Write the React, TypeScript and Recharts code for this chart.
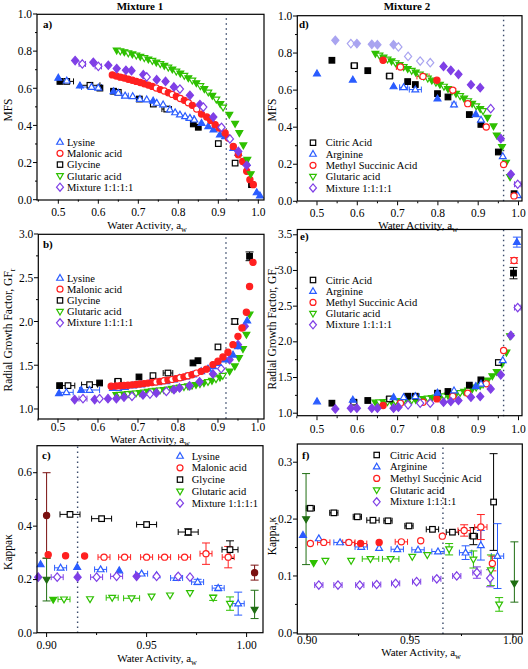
import React from 'react'
import { ScatterChart, Scatter, XAxis, YAxis, ReferenceLine, ErrorBar } from 'recharts'

const FONT = "'Liberation Serif', 'Times New Roman', Times, serif"
const BLUE = '#2a5cff'
const RED = '#ff2020'
const BLACK = '#000000'
const GREEN = '#2ec000'
const PURPLE = '#7f3fe6'
const LAVENDER = '#a9a4f0'
const DARKRED = '#7a1010'
const DARKGREEN = '#1f6e12'

// point = [aw, value, open?, xErr?, yErrDown?, yErrUp?]
type Pt = number[]

// ---- panel a: MFS, mixture 1
const aLysine: Pt[] = [
  [0.5, 0.656], [0.521, 0.641, 1], [0.554, 0.614], [0.583, 0.607, 1, 0.025], [0.6, 0.603, 1],
  [0.638, 0.583], [0.65, 0.575, 1], [0.667, 0.56, 1, 0.008], [0.686, 0.557, 1], [0.704, 0.542, 1],
  [0.721, 0.539, 1], [0.737, 0.533], [0.746, 0.521, 1], [0.762, 0.512, 1], [0.779, 0.485, 1],
  [0.792, 0.47, 1], [0.804, 0.458, 1], [0.817, 0.449, 1], [0.829, 0.44, 1, 0.01], [0.84, 0.431, 1],
  [0.858, 0.413], [0.875, 0.395], [0.888, 0.377], [0.904, 0.35], [0.917, 0.341], [0.9375, 0.278],
  [0.95, 0.251], [0.971, 0.197], [0.996, 0.039], [1.004, 0.022],
]
const aMalonic: Pt[] = [
  [0.635, 0.672], [0.645, 0.666], [0.655, 0.66], [0.665, 0.655], [0.675, 0.649], [0.685, 0.643],
  [0.695, 0.637], [0.705, 0.631], [0.715, 0.624], [0.725, 0.617], [0.735, 0.61], [0.745, 0.601, 1],
  [0.755, 0.593], [0.765, 0.585, 1], [0.775, 0.576], [0.785, 0.567, 1], [0.795, 0.556], [0.805, 0.545, 1],
  [0.815, 0.535], [0.825, 0.522, 1], [0.835, 0.508], [0.846, 0.488, 1], [0.858, 0.461], [0.871, 0.445],
  [0.881, 0.427], [0.892, 0.404], [0.902, 0.386], [0.917, 0.359], [0.925, 0.332], [0.9375, 0.287],
  [0.95, 0.242], [0.961, 0.206], [0.971, 0.153], [0.979, 0.108], [0.9875, 0.081],
]
const aGlycine: Pt[] = [
  [0.504, 0.637], [0.521, 0.637, 1, 0.017], [0.579, 0.616, 1, 0.025], [0.604, 0.601], [0.638, 0.584],
  [0.65, 0.578, 1], [0.7025, 0.542], [0.7375, 0.515, 1], [0.771, 0.488, 1, 0.012], [0.8375, 0.408],
  [0.85, 0.39], [0.9, 0.302, 1], [0.942, 0.197, 1], [0.983, 0.081],
]
const aGlutaric: Pt[] = [
  [0.646, 0.804], [0.655, 0.8, 1], [0.665, 0.795], [0.675, 0.789, 1], [0.685, 0.783], [0.695, 0.777, 1],
  [0.705, 0.77], [0.715, 0.763, 1], [0.725, 0.756], [0.735, 0.748, 1], [0.745, 0.739], [0.755, 0.731, 1],
  [0.765, 0.722], [0.775, 0.712, 1], [0.785, 0.702], [0.795, 0.691, 1], [0.805, 0.68], [0.815, 0.668, 1],
  [0.825, 0.655], [0.835, 0.642, 1], [0.845, 0.628], [0.855, 0.612, 1], [0.865, 0.596], [0.875, 0.578, 1],
  [0.885, 0.56], [0.895, 0.54, 1], [0.905, 0.516], [0.912, 0.497, 1], [0.9275, 0.458], [0.942, 0.409],
  [0.9525, 0.359], [0.9625, 0.293], [0.9725, 0.215], [0.981, 0.138],
]
const aMixture: Pt[] = [
  [0.542, 0.749], [0.56, 0.731, 1, 0.008], [0.5875, 0.74], [0.6, 0.718, 1, 0.008], [0.625, 0.724],
  [0.646, 0.706], [0.669, 0.697], [0.683, 0.695], [0.7125, 0.673], [0.721, 0.661, 1], [0.746, 0.646],
  [0.768, 0.637], [0.789, 0.607], [0.804, 0.596, 1], [0.829, 0.562], [0.854, 0.512], [0.8625, 0.499, 1],
  [0.8875, 0.445], [0.908, 0.39, 1], [0.929, 0.327, 1], [0.95, 0.26], [0.971, 0.185],
]

// ---- panel b: growth factor, mixture 1
const bLysine: Pt[] = [
  [0.5025, 1.179], [0.521, 1.19, 1, 0.017], [0.558, 1.217], [0.579, 1.217, 1, 0.025], [0.6375, 1.24],
  [0.65, 1.24, 1], [0.667, 1.25, 1], [0.6875, 1.267, 1], [0.708, 1.28, 1], [0.729, 1.297, 1],
  [0.75, 1.305, 1], [0.771, 1.316, 1], [0.79, 1.335, 1], [0.804, 1.354, 1], [0.82, 1.37, 1],
  [0.8375, 1.392, 1], [0.858, 1.43], [0.875, 1.46], [0.8875, 1.488], [0.9, 1.526], [0.917, 1.564],
  [0.9375, 1.62], [0.95, 1.716], [0.973, 2.01],
]
const bMalonic: Pt[] = [
  [0.633, 1.259], [0.645, 1.262], [0.655, 1.265], [0.665, 1.268], [0.675, 1.272], [0.685, 1.276],
  [0.695, 1.28], [0.705, 1.285], [0.715, 1.29], [0.725, 1.296], [0.735, 1.302], [0.745, 1.308, 1],
  [0.755, 1.315], [0.765, 1.322, 1], [0.775, 1.33], [0.785, 1.338, 1], [0.795, 1.347], [0.805, 1.357, 1],
  [0.815, 1.367], [0.825, 1.379, 1], [0.835, 1.392], [0.846, 1.41, 1], [0.858, 1.43], [0.871, 1.455],
  [0.8875, 1.507], [0.9, 1.545], [0.9125, 1.594], [0.925, 1.648], [0.9375, 1.735], [0.95, 1.83],
  [0.96, 1.926], [0.971, 2.105], [0.979, 2.4], [0.9875, 2.676],
]
const bGlycine: Pt[] = [
  [0.504, 1.267], [0.525, 1.267, 1, 0.017], [0.579, 1.278, 1, 0.02], [0.604, 1.297], [0.65, 1.316, 1, 0.008],
  [0.7025, 1.366], [0.7375, 1.381, 1], [0.775, 1.411, 1, 0.012], [0.8375, 1.526], [0.85, 1.552],
  [0.9, 1.709, 1], [0.942, 2.0, 1, 0, 0.03], [0.979, 2.745, 0, 0, 0.05],
]
const bGlutaric: Pt[] = [
  [0.646, 1.16], [0.655, 1.163, 1], [0.665, 1.167], [0.675, 1.171, 1], [0.685, 1.175], [0.695, 1.179, 1],
  [0.705, 1.183], [0.715, 1.19, 1], [0.725, 1.197], [0.735, 1.203, 1], [0.745, 1.208], [0.755, 1.213, 1],
  [0.765, 1.218], [0.775, 1.224, 1], [0.785, 1.231], [0.795, 1.238, 1], [0.805, 1.245], [0.815, 1.252, 1],
  [0.825, 1.26], [0.835, 1.268, 1], [0.845, 1.276], [0.855, 1.287, 1], [0.865, 1.298], [0.875, 1.31, 1],
  [0.885, 1.324], [0.895, 1.342, 1], [0.905, 1.36], [0.912, 1.38, 1], [0.929, 1.43], [0.942, 1.488],
  [0.9525, 1.583], [0.9625, 1.686], [0.971, 1.85], [0.979, 2.08],
]
const bMixture: Pt[] = [
  [0.5417, 1.107], [0.5625, 1.118, 1, 0.01], [0.5917, 1.107], [0.604, 1.118, 1], [0.625, 1.118],
  [0.646, 1.118], [0.665, 1.135], [0.685, 1.145, 1], [0.7125, 1.16], [0.73, 1.17, 1], [0.746, 1.183],
  [0.771, 1.2, 1], [0.79, 1.22], [0.804, 1.24], [0.829, 1.265], [0.854, 1.31], [0.8875, 1.4],
  [0.908, 1.46, 1], [0.929, 1.564], [0.95, 1.735], [0.967, 1.945],
]

// ---- panel c: kappa, mixture 1
const cLysine: Pt[] = [
  [0.897, 0.257], [0.907, 0.244, 1, 0.003], [0.9153, 0.247], [0.927, 0.238, 1, 0.003], [0.9363, 0.234],
  [0.9475, 0.222, 1, 0.003], [0.955, 0.216], [0.965, 0.206, 1, 0.003], [0.9755, 0.191, 1, 0.003, 0.01],
  [0.9858, 0.168, 1, 0.003, 0.01], [0.9958, 0.11, 1, 0.003, 0.043],
]
const cMalonic: Pt[] = [
  [0.9008, 0.293], [0.9095, 0.289], [0.919, 0.288], [0.9287, 0.284, 1, 0.003], [0.939, 0.284, 1, 0.003],
  [0.95, 0.284, 1, 0.003], [0.959, 0.284, 1, 0.003], [0.969, 0.284, 1, 0.003],
  [0.9797, 0.297, 1, 0.003, 0.04], [0.9908, 0.284, 1, 0.003, 0.04],
]
const cGlycine: Pt[] = [
  [0.9117, 0.444, 1, 0.005], [0.9275, 0.428, 1, 0.005], [0.95, 0.406, 1, 0.005],
  [0.9708, 0.378, 1, 0.005, 0.012], [0.9917, 0.312, 1, 0.004, 0.033],
]
const cGlutaric: Pt[] = [
  [0.9033, 0.125], [0.9087, 0.126, 1, 0.003], [0.9217, 0.127, 1], [0.9328, 0.132, 1, 0.003],
  [0.9425, 0.13, 1, 0.004], [0.9525, 0.137, 1], [0.9617, 0.141, 1], [0.9717, 0.15, 1],
  [0.9833, 0.132, 1, 0, 0.01], [0.9917, 0.11, 1, 0, 0.025],
]
const cMixture: Pt[] = [
  [0.8958, 0.209], [0.9053, 0.209, 1, 0.003], [0.9155, 0.209], [0.925, 0.209, 1, 0.003],
  [0.935, 0.212, 1, 0.003], [0.945, 0.212], [0.955, 0.212, 1], [0.9658, 0.212, 1], [0.9717, 0.209, 1],
]
const cLitMalonic: Pt[] = [[0.9, 0.44, 0, 0, 0.16], [1.004, 0.226, 0, 0, 0.028]]
const cLitGlutaric: Pt[] = [[0.9, 0.2, 0, 0, 0.08], [1.004, 0.087, 0, 0, 0.033, 0.073]]

// ---- panel d: MFS, mixture 2
const dCitric: Pt[] = [
  [0.537, 0.761], [0.5926, 0.732, 1, 0.008], [0.626, 0.705], [0.68, 0.676, 1, 0.008], [0.725, 0.646],
  [0.744, 0.63], [0.799, 0.581], [0.825, 0.563], [0.878, 0.468], [0.9066, 0.415], [0.95, 0.266], [0.989, 0.041],
]
const dArginine: Pt[] = [
  [0.5, 0.689], [0.589, 0.656], [0.69, 0.62], [0.715, 0.615, 1, 0.01], [0.744, 0.603, 1, 0.015],
  [0.799, 0.554], [0.84, 0.522, 1, 0.005], [0.894, 0.47], [0.907, 0.44, 1], [0.961, 0.243, 1], [0.998, 0.032, 1],
]
const dMethyl: Pt[] = [
  [0.664, 0.761], [0.707, 0.725, 1, 0.01], [0.763, 0.674, 1, 0.015], [0.7975, 0.653], [0.837, 0.599, 1],
  [0.874, 0.527, 1], [0.92, 0.401, 1], [0.963, 0.198, 1], [0.989, 0.029, 1],
]
const dGlutaric: Pt[] = [
  [0.645, 0.797], [0.655, 0.787, 1], [0.665, 0.776], [0.675, 0.766, 1], [0.685, 0.756], [0.695, 0.746, 1],
  [0.705, 0.736], [0.715, 0.725, 1], [0.725, 0.715], [0.735, 0.705, 1], [0.745, 0.695], [0.755, 0.685, 1],
  [0.765, 0.674], [0.775, 0.663, 1], [0.785, 0.652], [0.795, 0.641, 1], [0.805, 0.63], [0.815, 0.619, 1],
  [0.825, 0.607], [0.835, 0.594, 1], [0.845, 0.581], [0.855, 0.568, 1], [0.865, 0.555], [0.875, 0.541, 1],
  [0.885, 0.527], [0.895, 0.513, 1], [0.905, 0.499], [0.912, 0.488, 1], [0.923, 0.451], [0.938, 0.405],
  [0.946, 0.356], [0.959, 0.293], [0.969, 0.209], [0.979, 0.131],
]
const dMixtureEarly: Pt[] = [
  [0.5455, 0.869], [0.584, 0.851, 1], [0.599, 0.851], [0.636, 0.847], [0.65, 0.845], [0.69, 0.845],
  [0.702, 0.833, 1], [0.726, 0.782, 1], [0.756, 0.757, 1], [0.781, 0.748, 1],
]
const dMixture: Pt[] = [
  [0.814, 0.728], [0.832, 0.707], [0.851, 0.685], [0.882, 0.629], [0.905, 0.613], [0.931, 0.5, 1],
  [0.956, 0.338], [0.981, 0.146], [0.998, 0.092, 1, 0.008],
]

// ---- panel e: growth factor, mixture 2
const eCitric: Pt[] = [
  [0.537, 1.14], [0.591, 1.154, 1, 0.008], [0.626, 1.178], [0.68, 1.2, 1, 0.008], [0.725, 1.238],
  [0.744, 1.238], [0.799, 1.28], [0.825, 1.304], [0.878, 1.393], [0.9066, 1.467], [0.95, 1.71, 1],
  [0.9876, 2.963, 0, 0, 0.08],
]
const eArginine: Pt[] = [
  [0.5, 1.164], [0.589, 1.187], [0.69, 1.224], [0.715, 1.224, 1], [0.744, 1.238, 1, 0.01], [0.799, 1.285],
  [0.84, 1.318, 1], [0.894, 1.378], [0.907, 1.411, 1], [0.961, 1.74, 1], [0.996, 3.397, 0, 0, 0.07],
]
const eMethyl: Pt[] = [
  [0.664, 1.107], [0.707, 1.14, 1], [0.763, 1.154, 1], [0.7975, 1.2], [0.837, 1.238, 1], [0.874, 1.28, 1],
  [0.92, 1.411, 1], [0.963, 1.878, 1], [0.989, 3.14, 1, 0, 0.04],
]
const eGlutaric: Pt[] = [
  [0.645, 1.15], [0.655, 1.152, 1], [0.665, 1.155], [0.675, 1.158, 1], [0.685, 1.161], [0.695, 1.165, 1],
  [0.705, 1.169], [0.715, 1.173, 1], [0.725, 1.178], [0.735, 1.183, 1], [0.745, 1.188], [0.755, 1.194, 1],
  [0.765, 1.2], [0.775, 1.207, 1], [0.785, 1.214], [0.795, 1.222, 1], [0.805, 1.23], [0.815, 1.239, 1],
  [0.825, 1.249], [0.835, 1.26, 1], [0.845, 1.272], [0.855, 1.285, 1], [0.865, 1.3], [0.875, 1.318, 1],
  [0.885, 1.338], [0.895, 1.36, 1], [0.905, 1.385], [0.912, 1.405, 1], [0.923, 1.46], [0.935, 1.52],
  [0.946, 1.58], [0.959, 1.69], [0.97, 1.85], [0.979, 2.08],
]
const eMixture: Pt[] = [
  [0.5455, 1.06], [0.584, 1.07], [0.599, 1.07], [0.636, 1.07], [0.65, 1.07], [0.69, 1.07], [0.702, 1.084],
  [0.726, 1.117, 1], [0.756, 1.14, 1], [0.781, 1.14, 1], [0.814, 1.154], [0.832, 1.164], [0.851, 1.178],
  [0.882, 1.224], [0.905, 1.234], [0.931, 1.34], [0.956, 1.537], [0.981, 2.09], [0.998, 2.48, 1, 0.008],
]

// ---- panel f: kappa, mixture 2
const fCitric: Pt[] = [
  [0.9016, 0.219, 1, 0.002], [0.913, 0.211, 1, 0.002], [0.9244, 0.204, 1, 0.002], [0.932, 0.198, 1, 0.003],
  [0.9393, 0.197, 1, 0.002], [0.9495, 0.188, 1, 0.002], [0.9609, 0.182, 1, 0.003], [0.9706, 0.177, 1, 0.003],
  [0.9808, 0.17, 1, 0.002, 0.015], [0.9906, 0.23, 1, 0.001, 0.085],
]
const fArginine: Pt[] = [
  [0.898, 0.172], [0.9057, 0.166, 1], [0.916, 0.159, 1, 0.003], [0.9263, 0.151, 1, 0.003], [0.935, 0.149, 1],
  [0.9438, 0.147, 1, 0.003], [0.9539, 0.146, 1, 0.003], [0.9636, 0.143, 1, 0.003],
  [0.977, 0.141, 1, 0.003, 0.012], [0.9844, 0.154, 1, 0, 0.026], [0.9925, 0.135, 1, 0.003, 0.057],
]
const fMethyl: Pt[] = [
  [0.9016, 0.157, 1], [0.9081, 0.159, 1, 0.003], [0.9203, 0.159, 1, 0.003], [0.926, 0.157, 0, 0.003],
  [0.935, 0.159], [0.9458, 0.16, 1, 0.003], [0.9552, 0.162, 1], [0.9657, 0.17, 1],
  [0.9763, 0.18, 1, 0.003, 0.01], [0.9844, 0.186, 1, 0.003, 0.022], [0.99, 0.122, 1, 0, 0.013],
]
const fGlutaric: Pt[] = [
  [0.9032, 0.123], [0.9089, 0.127, 1], [0.9214, 0.127, 1], [0.9308, 0.13, 1, 0.004], [0.9406, 0.13, 1, 0.004],
  [0.9511, 0.134, 1], [0.9584, 0.137, 1], [0.969, 0.147, 1, 0, 0.01], [0.9808, 0.129, 1, 0, 0.015],
  [0.9893, 0.11, 1, 0, 0.027], [0.9933, 0.05, 1, 0, 0.012],
]
const fLitGlutaric: Pt[] = [[0.8995, 0.2, 0, 0, 0.08], [1.0007, 0.087, 0, 0, 0.033, 0.073]]
const fMixture: Pt[] = [
  [0.9057, 0.084, 1, 0.002], [0.915, 0.084, 1, 0.002], [0.9256, 0.084, 1, 0.002], [0.9338, 0.085, 1, 0.002],
  [0.943, 0.087, 1, 0.002], [0.9532, 0.09, 1, 0.002], [0.963, 0.095, 1, 0.002], [0.9727, 0.1, 1, 0.002],
  [0.9825, 0.106, 1, 0.002, 0.01], [0.9889, 0.096, 1, 0, 0.015],
]

// ---- ticks and labels
const awMajor = [0.5, 0.6, 0.7, 0.8, 0.9, 1.0]
const awMinor = [0.45, 0.55, 0.65, 0.75, 0.85, 0.95]
const awHiMajor = [0.9, 0.95, 1.0]
const awHiMinor = [0.925, 0.975]
const mfsMajor = [0, 0.2, 0.4, 0.6, 0.8, 1.0]
const mfsMinor = [0.1, 0.3, 0.5, 0.7, 0.9]
const gf1Major = [1.0, 1.5, 2.0, 2.5, 3.0]
const gf1Minor = [1.25, 1.75, 2.25, 2.75]
const gf2Major = [1.0, 1.5, 2.0, 2.5, 3.0, 3.5]
const gf2Minor = [1.25, 1.75, 2.25, 2.75, 3.25]
const k1Major = [0, 0.2, 0.4, 0.6]
const k1Minor = [0.1, 0.3, 0.5]
const k2Major = [0, 0.1, 0.2, 0.3]
const k2Minor = [0.05, 0.15, 0.25]

const legend1 = ['Lysine', 'Malonic acid', 'Glycine', 'Glutaric acid', 'Mixture 1:1:1:1']
const legend2 = ['Citric Acid', 'Arginine', 'Methyl Succinic Acid', 'Glutaric acid', 'Mixture 1:1:1:1']

type Kind = 'tri' | 'circ' | 'sq' | 'dtri' | 'dia'
const kinds1: Kind[] = ['tri', 'circ', 'sq', 'dtri', 'dia']
const colors1 = [BLUE, RED, BLACK, GREEN, PURPLE]
const kinds2: Kind[] = ['sq', 'tri', 'circ', 'dtri', 'dia']
const colors2 = [BLACK, BLUE, RED, GREEN, PURPLE]

const Marker = ({ cx, cy, kind, color, open, s = 3.1 }: any) => {
  if (cx == null || cy == null) return null
  const fill = open ? '#fff' : color
  const common = { fill, stroke: color, strokeWidth: 1.2 }
  switch (kind) {
    case 'sq':
      return <rect x={cx - s * 0.9} y={cy - s * 0.9} width={s * 1.8} height={s * 1.8} {...common} />
    case 'circ':
      return <circle cx={cx} cy={cy} r={s} {...common} />
    case 'tri':
      return <polygon points={`${cx},${cy - s * 1.15} ${cx + s * 1.1},${cy + s * 0.75} ${cx - s * 1.1},${cy + s * 0.75}`} {...common} />
    case 'dtri':
      return <polygon points={`${cx},${cy + s * 1.15} ${cx + s * 1.1},${cy - s * 0.75} ${cx - s * 1.1},${cy - s * 0.75}`} {...common} />
    default:
      return <polygon points={`${cx},${cy - s * 1.35} ${cx + s * 1.15},${cy} ${cx},${cy + s * 1.35} ${cx - s * 1.15},${cy}`} {...common} />
  }
}

const toRows = (arr: Pt[]) =>
  arr.map(([x, y, o = 0, ex = 0, ed = 0, eu]) => ({
    x,
    y,
    o,
    ex: ex ? ex : undefined,
    ey: ed ? [ed, eu ?? ed] : undefined,
  }))

interface Series { data: Pt[]; kind: Kind; color: string }
interface PanelDef {
  l: number; t: number; r: number; b: number
  xDomain: [number, number]; yDomain: [number, number]
  xMajor: number[]; xMinor: number[]; yMajor: number[]; yMinor: number[]
  xDigits: number; yDigits: number; xLabelDy: number
  dotX: number
  series: Series[]
}

const M = { top: 16, right: 16, bottom: 26, left: 40 }

const isIn = (list: number[], v: number) => list.some((m) => Math.abs(m - v) < 1e-9)
const sorted = (a: number[], b: number[]) => [...a, ...b].sort((u, v) => u - v)

const Panel = ({ p }: { p: PanelDef }) => {
  const w = p.r - p.l
  const h = p.b - p.t
  const axisY = M.top + h
  const axisX = M.left
  const xTick = (props: any) => {
    const v = props.payload.value
    const major = isIn(p.xMajor, v)
    return (
      <g>
        <line x1={props.x} x2={props.x} y1={axisY} y2={axisY + (major ? 4 : 2)} stroke="#000" strokeWidth={1} />
        {major && (
          <text x={props.x} y={axisY + p.xLabelDy} textAnchor="middle" fontSize={11.5} fontFamily={FONT} fill="#000">
            {v.toFixed(p.xDigits)}
          </text>
        )}
      </g>
    )
  }
  const yTick = (props: any) => {
    const v = props.payload.value
    const major = isIn(p.yMajor, v)
    return <line x1={axisX} x2={axisX - (major ? 4 : 2)} y1={props.y} y2={props.y} stroke="#000" strokeWidth={1} />
  }
  return (
    <div style={{ position: 'absolute', left: p.l - M.left, top: p.t - M.top }}>
      <ScatterChart
        width={w + M.left + M.right}
        height={h + M.top + M.bottom}
        margin={{ top: M.top, right: M.right, bottom: M.bottom - 1, left: M.left - 1 }}
      >
        <XAxis
          type="number"
          dataKey="x"
          domain={p.xDomain}
          ticks={sorted(p.xMajor, p.xMinor)}
          interval={0}
          tickLine={false}
          axisLine={false}
          height={1}
          tick={xTick}
        />
        <YAxis
          type="number"
          dataKey="y"
          domain={p.yDomain}
          ticks={sorted(p.yMajor, p.yMinor)}
          interval={0}
          tickLine={false}
          axisLine={false}
          width={1}
          tick={yTick}
        />
        <ReferenceLine x={p.dotX} stroke="#3a4a6a" strokeDasharray="1.5 3.5" strokeWidth={1.4} />
        {p.series.map((s, i) => (
          <Scatter
            key={i}
            data={toRows(s.data)}
            isAnimationActive={false}
            shape={(sp: any) => <Marker cx={sp.cx} cy={sp.cy} kind={s.kind} color={s.color} open={sp.payload?.o === 1} />}
          >
            <ErrorBar dataKey="ex" direction="x" width={3} stroke={s.color} strokeWidth={1} isAnimationActive={false} />
            <ErrorBar dataKey="ey" direction="y" width={4} stroke={s.color} strokeWidth={1} isAnimationActive={false} />
          </Scatter>
        ))}
      </ScatterChart>
    </div>
  )
}

// y tick labels placed with the same linear mapping as the panel's value axis
const YLabels = ({ p }: { p: PanelDef }) => {
  const [y0, y1] = p.yDomain
  const h = p.b - p.t
  return (
    <g>
      {p.yMajor.map((v) => (
        <text
          key={v}
          x={p.l - 5}
          y={p.t + ((y1 - v) / (y1 - y0)) * h + 4}
          textAnchor="end"
          fontSize={11.5}
          fontFamily={FONT}
          fill="#000"
        >
          {v.toFixed(p.yDigits)}
        </text>
      ))}
    </g>
  )
}

const panelA: PanelDef = {
  l: 37, t: 14.3, r: 264, b: 200, xDomain: [0.4467, 1.0142], yDomain: [0, 1],
  xMajor: awMajor, xMinor: awMinor, yMajor: mfsMajor, yMinor: mfsMinor, xDigits: 1, yDigits: 1, xLabelDy: 16,
  dotX: 0.92,
  series: [
    { data: aGlycine, kind: 'sq', color: BLACK },
    { data: aLysine, kind: 'tri', color: BLUE },
    { data: aMalonic, kind: 'circ', color: RED },
    { data: aGlutaric, kind: 'dtri', color: GREEN },
    { data: aMixture, kind: 'dia', color: PURPLE },
  ],
}
const panelB: PanelDef = {
  l: 38.3, t: 234.3, r: 264, b: 419, xDomain: [0.45, 1.0143], yDomain: [0.889, 3.0],
  xMajor: awMajor, xMinor: awMinor, yMajor: gf1Major, yMinor: gf1Minor, xDigits: 1, yDigits: 1, xLabelDy: 12,
  dotX: 0.92,
  series: [
    { data: bGlycine, kind: 'sq', color: BLACK },
    { data: bGlutaric, kind: 'dtri', color: GREEN },
    { data: bMixture, kind: 'dia', color: PURPLE },
    { data: bLysine, kind: 'tri', color: BLUE },
    { data: bMalonic, kind: 'circ', color: RED },
  ],
}
const panelC: PanelDef = {
  l: 37, t: 445.7, r: 263, b: 632.7, xDomain: [0.8952, 1.0082], yDomain: [0, 0.7],
  xMajor: awHiMajor, xMinor: awHiMinor, yMajor: k1Major, yMinor: k1Minor, xDigits: 2, yDigits: 1, xLabelDy: 15.5,
  dotX: 0.9155,
  series: [
    { data: cGlycine, kind: 'sq', color: BLACK },
    { data: cMalonic, kind: 'circ', color: RED },
    { data: cLysine, kind: 'tri', color: BLUE },
    { data: cMixture, kind: 'dia', color: PURPLE },
    { data: cGlutaric, kind: 'dtri', color: GREEN },
    { data: cLitMalonic, kind: 'circ', color: DARKRED },
    { data: cLitGlutaric, kind: 'dtri', color: DARKGREEN },
  ],
}
const panelD: PanelDef = {
  l: 297.3, t: 15.7, r: 522, b: 201, xDomain: [0.4504, 1.0079], yDomain: [0, 1],
  xMajor: awMajor, xMinor: awMinor, yMajor: mfsMajor, yMinor: mfsMinor, xDigits: 1, yDigits: 1, xLabelDy: 15.7,
  dotX: 0.963,
  series: [
    { data: dMixtureEarly, kind: 'dia', color: LAVENDER },
    { data: dGlutaric, kind: 'dtri', color: GREEN },
    { data: dCitric, kind: 'sq', color: BLACK },
    { data: dArginine, kind: 'tri', color: BLUE },
    { data: dMethyl, kind: 'circ', color: RED },
    { data: dMixture, kind: 'dia', color: PURPLE },
  ],
}
const panelE: PanelDef = {
  l: 297.3, t: 229.5, r: 522, b: 415.7, xDomain: [0.4504, 1.0079], yDomain: [0.958, 3.567],
  xMajor: awMajor, xMinor: awMinor, yMajor: gf2Major, yMinor: gf2Minor, xDigits: 1, yDigits: 1, xLabelDy: 17,
  dotX: 0.963,
  series: [
    { data: eGlutaric, kind: 'dtri', color: GREEN },
    { data: eCitric, kind: 'sq', color: BLACK },
    { data: eMethyl, kind: 'circ', color: RED },
    { data: eArginine, kind: 'tri', color: BLUE },
    { data: eMixture, kind: 'dia', color: PURPLE },
  ],
}
const panelF: PanelDef = {
  l: 297.3, t: 444, r: 522.3, b: 634, xDomain: [0.8951, 1.0044], yDomain: [-0.002, 0.332],
  xMajor: awHiMajor, xMinor: awHiMinor, yMajor: k2Major, yMinor: k2Minor, xDigits: 2, yDigits: 1, xLabelDy: 9.5,
  dotX: 0.966,
  series: [
    { data: fCitric, kind: 'sq', color: BLACK },
    { data: fArginine, kind: 'tri', color: BLUE },
    { data: fMethyl, kind: 'circ', color: RED },
    { data: fGlutaric, kind: 'dtri', color: GREEN },
    { data: fMixture, kind: 'dia', color: PURPLE },
    { data: fLitGlutaric, kind: 'dtri', color: DARKGREEN },
  ],
}
const panels = [panelA, panelB, panelC, panelD, panelE, panelF]

const Legend = ({ names, kinds, colors, mx, tx, rows }: any) => (
  <g>
    {names.map((n: string, i: number) => (
      <g key={n}>
        <Marker cx={mx} cy={rows[i]} kind={kinds[i]} color={colors[i]} open s={3} />
        <text x={tx} y={rows[i] + 3.6} fontSize={10.5} fontFamily={FONT} fill="#000">{n}</text>
      </g>
    ))}
  </g>
)

const AwTitle = ({ x, y }: { x: number; y: number }) => (
  <text x={x} y={y} textAnchor="middle" fontSize={11} fontFamily={FONT} fill="#000">
    Water Activity, a<tspan dy={3} fontSize={8}>w</tspan>
  </text>
)

const YTitle = ({ x, y, children }: any) => (
  <text x={x} y={y} textAnchor="middle" fontSize={11.5} fontFamily={FONT} fill="#000" transform={`rotate(-90 ${x} ${y})`}>
    {children}
  </text>
)

const PanelTag = ({ x, y, s }: any) => (
  <text x={x} y={y} fontSize={11} fontWeight="bold" fontFamily={FONT} fill="#000">{s}</text>
)

export default function App() {
  return (
    <div style={{ position: 'absolute', left: 0, top: 0, width: 528, height: 669, background: '#fff', overflow: 'hidden' }}>
      {panels.map((p, i) => (
        <Panel key={i} p={p} />
      ))}
      <svg width={528} height={669} style={{ position: 'absolute', left: 0, top: 0, pointerEvents: 'none' }}>
        {panels.map((p, i) => (
          <rect key={i} x={p.l} y={p.t} width={p.r - p.l} height={p.b - p.t} fill="none" stroke="#000" strokeWidth={1.2} />
        ))}
        {panels.map((p, i) => (
          <YLabels key={i} p={p} />
        ))}
        <text x={140} y={10} textAnchor="middle" fontSize={11} fontWeight="bold" fontFamily={FONT}>Mixture 1</text>
        <text x={407} y={10} textAnchor="middle" fontSize={11} fontWeight="bold" fontFamily={FONT}>Mixture 2</text>

        <PanelTag x={43} y={28} s="a)" />
        <PanelTag x={43} y={248} s="b)" />
        <PanelTag x={42} y={459} s="c)" />
        <PanelTag x={299} y={28} s="d)" />
        <PanelTag x={300} y={240} s="e)" />
        <PanelTag x={302} y={459} s="f)" />

        <AwTitle x={147} y={229} />
        <AwTitle x={418} y={229} />
        <AwTitle x={150} y={443} />
        <AwTitle x={157} y={662} />
        <AwTitle x={421} y={656} />

        <YTitle x={12} y={110}>MFS</YTitle>
        <YTitle x={276} y={110}>MFS</YTitle>
        <YTitle x={12} y={330}>
          Radial Growth Factor, GF<tspan dy={3} fontSize={8}>r</tspan>
        </YTitle>
        <YTitle x={276} y={328}>
          Radial Growth Factor, GF<tspan dy={3} fontSize={8}>r</tspan>
        </YTitle>
        <YTitle x={12} y={552}>Kappaκ</YTitle>
        <YTitle x={276} y={536}>Kappa,κ</YTitle>

        <Legend names={legend1} kinds={kinds1} colors={colors1} mx={60} tx={67} rows={[142, 153.3, 164.6, 175.9, 187.2]} />
        <Legend names={legend1} kinds={kinds1} colors={colors1} mx={60} tx={67} rows={[278, 289.2, 300.4, 311.6, 322.8]} />
        <Legend names={legend1} kinds={kinds1} colors={colors1} mx={180} tx={191.7} rows={[456, 467.8, 479.6, 491.4, 503.2]} />
        <Legend names={legend2} kinds={kinds2} colors={colors2} mx={313} tx={325.7} rows={[142.7, 154, 165.3, 176.6, 187.9]} />
        <Legend names={legend2} kinds={kinds2} colors={colors2} mx={313} tx={325.7} rows={[280, 291.2, 302.4, 313.6, 324.8]} />
        <Legend names={legend2} kinds={kinds2} colors={colors2} mx={376.7} tx={390} rows={[455, 466.7, 478.4, 490.1, 501.8]} />
      </svg>
    </div>
  )
}
